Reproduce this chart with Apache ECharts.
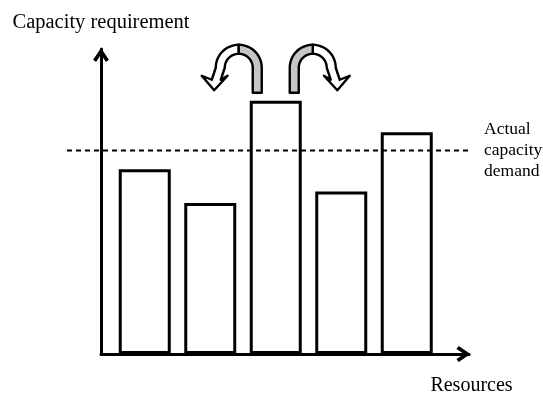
<!DOCTYPE html>
<html>
<head>
<meta charset="utf-8">
<script src="https://cdn.jsdelivr.net/npm/echarts@6/dist/echarts.min.js"></script>
<style>
html, body { margin: 0; padding: 0; background: #fff; }
#chart { width: 543px; height: 396px; }
</style>
</head>
<body>
<div id="chart"></div>
<script>
var resources = ['R1', 'R2', 'R3', 'R4', 'R5'];
var requirement = [60.6, 49.5, 83.0, 53.3, 72.7];
var demand = 66.7;
var demandLabel = ['Actual', 'capacity', 'demand'];
var yAxisName = 'Capacity requirement';
var xAxisName = 'Resources';
var peakIndex = 2;

var font = "'Liberation Serif', 'Times New Roman', serif";
var chevron = 'path://M8,0 L16,12 L13,14.2 L8,6.6 L3,14.2 L0,12 Z';

var chart = echarts.init(document.getElementById('chart'));

var hiddenY = function(idx){
	return { type: 'value', gridIndex: idx, min: 0, max: 100, show: false };
};

var option = {
	backgroundColor: '#fff',
	animation: false,
	grid: [
		// dashed demand line
		{ left: 67, right: 73, top: 49, bottom: 42 },
		// axes with arrows
		{ left: 101, right: 74, top: 49, bottom: 42 },
		// bars
		{ left: 112, right: 103.5, top: 49, bottom: 42 }
	],
	xAxis: [
		{ type: 'value', gridIndex: 0, min: 0, max: 1, show: false },
		{
			type: 'value', gridIndex: 1, min: 0, max: 1,
			axisLine: {
				show: true,
				lineStyle: { color: '#000', width: 3 },
				symbol: ['none', chevron],
				symbolSize: [16, 14],
				symbolOffset: [0, -5.5]
			},
			axisTick: { show: false },
			axisLabel: { show: false },
			splitLine: { show: false },
			name: xAxisName,
			nameLocation: 'end',
			nameGap: 2.5,
			nameTextStyle: {
				fontFamily: font, fontSize: 20, color: '#000',
				align: 'center', verticalAlign: 'top', lineHeight: 20,
				padding: [22, 0, 0, 0]
			}
		},
		{ type: 'category', gridIndex: 2, data: resources, show: false }
	],
	yAxis: [
		hiddenY(0),
		{
			type: 'value', gridIndex: 1, min: 0, max: 100,
			axisLine: {
				show: true,
				lineStyle: { color: '#000', width: 3 },
				symbol: ['none', chevron],
				symbolSize: [16, 14],
				symbolOffset: [0, -6]
			},
			axisTick: { show: false },
			axisLabel: { show: false },
			splitLine: { show: false },
			name: yAxisName,
			nameLocation: 'end',
			nameGap: 26,
			nameTextStyle: {
				fontFamily: font, fontSize: 20.5, color: '#000',
				align: 'center', verticalAlign: 'middle'
			}
		},
		hiddenY(2)
	],
	series: [
		{
			type: 'line',
			xAxisIndex: 0, yAxisIndex: 0,
			z: 3,
			symbol: 'circle',
			symbolSize: 0,
			lineStyle: { color: '#000', width: 2, type: [5, 4] },
			data: [
				[0, demand],
				{
					value: [1, demand],
					label: {
						show: true,
						position: 'right',
						distance: 14,
						formatter: demandLabel.join('\n'),
						fontFamily: font, fontSize: 17.5, lineHeight: 21,
						color: '#000', align: 'left', verticalAlign: 'middle'
					}
				}
			]
		},
		{
			type: 'bar',
			xAxisIndex: 2, yAxisIndex: 2,
			z: 2,
			barWidth: 52,
			itemStyle: { color: '#fff', borderColor: '#000', borderWidth: 3 },
			data: requirement
		}
	]
};
chart.setOption(option);

// curved "shift" arrows above the tallest bar
function arcPts(ac, ay, r, t0, t1, n){
	var pts = [];
	for (var i = 0; i <= n; i++) {
		var t = t0 + (t1 - t0) * i / n;
		pts.push([ac + r * Math.cos(t), ay - r * Math.sin(t)]);
	}
	return pts;
}

function curlArrow(s, cx, top){
	var ro = 23, ri = 14, ac = 37, ay = -34;
	var map = function(p){ return [cx + s * p[0], top + p[1]]; };
	var tail = [[ac - ri, -9]]
		.concat(arcPts(ac, ay, ri, Math.PI, Math.PI / 2, 14))
		.concat(arcPts(ac, ay, ro, Math.PI / 2, Math.PI, 14))
		.concat([[ac - ro, -9]]);
	var head = arcPts(ac, ay, ro, Math.PI / 2, 0, 14)
		.concat([[ac + ro + 4, -22], [74, -26], [61.6, -11.5], [48.2, -26], [ac + ri + 4, -22]])
		.concat(arcPts(ac, ay, ri, 0, Math.PI / 2, 14));
	return [
		{ type: 'polygon', z: 10, shape: { points: head.map(map) },
			style: { fill: '#fff', stroke: '#000', lineWidth: 2.4, lineJoin: 'round' } },
		{ type: 'polygon', z: 10, shape: { points: tail.map(map) },
			style: { fill: '#c6c6c6', stroke: '#000', lineWidth: 2.4, lineJoin: 'round' } }
	];
}

var pt = chart.convertToPixel({ seriesIndex: 1 }, [peakIndex, requirement[peakIndex]]);
var barTop = pt[1] + 0.9;
chart.setOption({
	graphic: curlArrow(-1, pt[0], barTop).concat(curlArrow(1, pt[0], barTop))
});
</script>
</body>
</html>
